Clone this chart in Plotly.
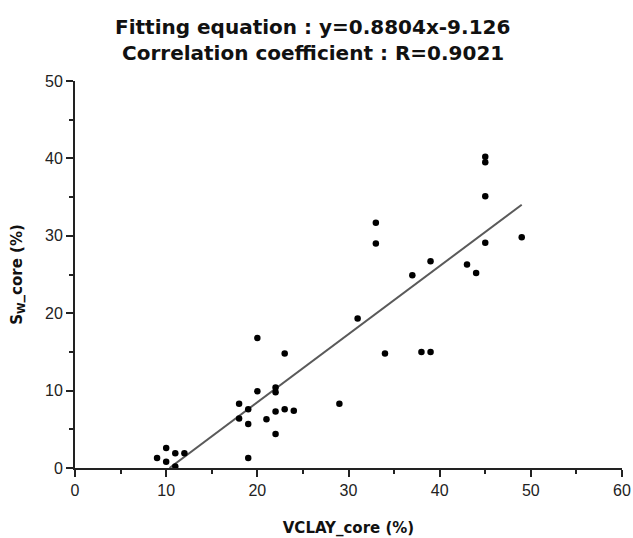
import plotly.graph_objects as go

vclay = [9, 10, 10, 11, 11, 12, 18, 18, 19, 19, 19, 20, 20, 21, 22, 22, 22, 22, 23, 23, 24,
         29, 31, 33, 33, 34, 37, 38, 39, 39, 43, 44, 45, 45, 45, 45, 49]
sw = [1.3, 2.6, 0.8, 1.9, 0.2, 1.9, 8.3, 6.4, 7.6, 5.7, 1.3, 16.8, 9.9, 6.3, 10.4, 9.8, 7.3, 4.4, 14.8, 7.6, 7.4,
      8.3, 19.3, 31.7, 29.0, 14.8, 24.9, 15.0, 26.7, 15.0, 26.3, 25.2, 40.2, 39.5, 35.1, 29.1, 29.8]
slope = 0.8804
intercept = -9.126
R = 0.9021

x_start = -intercept / slope
x_end = max(vclay)
fit_x = [x_start, x_end]
fit_y = [slope * v + intercept for v in fit_x]

fig = go.Figure()
fig.add_trace(go.Scatter(x=fit_x, y=fit_y, mode="lines",
                         line=dict(color="#5a5a5a", width=2), showlegend=False))
fig.add_trace(go.Scatter(x=vclay, y=sw, mode="markers",
                         marker=dict(color="black", size=6.5), showlegend=False,
                         cliponaxis=False))

axis_common = dict(showline=True, linecolor="#222", linewidth=1.8, ticks="outside",
                   ticklen=7, tickwidth=1.5, tickcolor="#222", showgrid=False, zeroline=False,
                   automargin=False,
                   tickfont=dict(family="Liberation Sans", size=16, color="#222"),
                   minor=dict(ticks="outside", ticklen=4, tickwidth=1.5, tickcolor="#222", dtick=5))

title_font = dict(family="DejaVu Sans", size=15, color="#111")
fig.update_xaxes(range=[0, 60], dtick=10, **axis_common,
                 title=dict(text="<b>VCLAY_core (%)</b>", standoff=24, font=title_font))
fig.update_yaxes(range=[0, 50], dtick=10, **axis_common,
                 title=dict(text="<b>S<sub>W</sub>_core (%)</b>", standoff=19, font=title_font))

head_font = dict(family="DejaVu Sans", size=20, color="#111")
fig.update_layout(
    width=633, height=538,
    margin=dict(l=75, r=11, t=81, b=70),
    paper_bgcolor="white", plot_bgcolor="white",
    annotations=[
        dict(text=f"<b>Fitting equation : y={slope}x{intercept}</b>", xref="paper", yref="paper",
             x=0.435, y=1.1395, xanchor="center", yanchor="middle", showarrow=False, font=head_font),
        dict(text=f"<b>Correlation coefficient : R={R}</b>", xref="paper", yref="paper",
             x=0.435, y=1.0735, xanchor="center", yanchor="middle", showarrow=False, font=head_font),
    ],
)

fig.write_html("out.html", config={"displayModeBar": False},
               post_script="document.body.style.margin='0';document.body.style.overflow='hidden';")
